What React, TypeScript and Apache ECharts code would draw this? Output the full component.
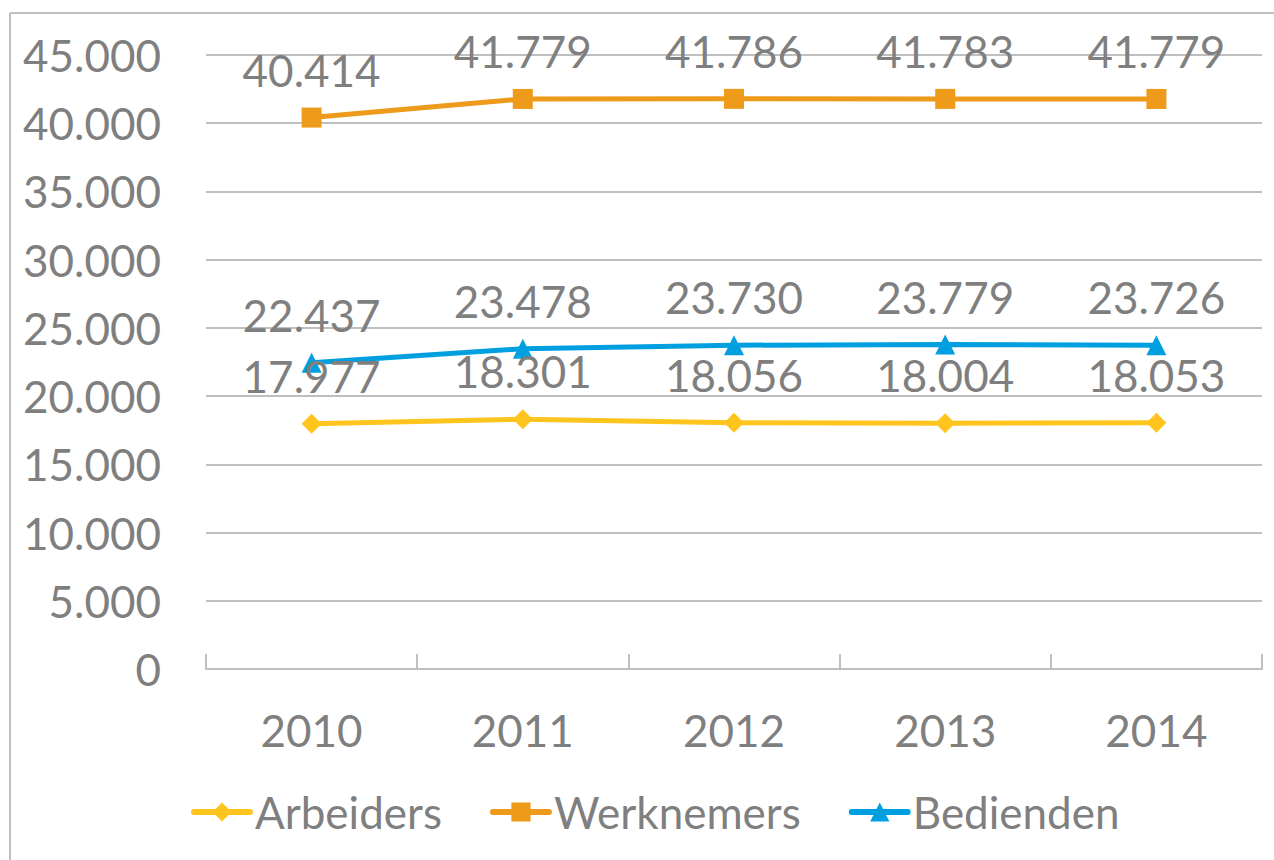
import React, { useEffect, useRef } from "react";
import * as echarts from "echarts";

const years = ["2010", "2011", "2012", "2013", "2014"];
const arbeiders = [17977, 18301, 18056, 18004, 18053];
const werknemers = [40414, 41779, 41786, 41783, 41779];
const bedienden = [22437, 23478, 23730, 23779, 23726];

const FONT = "Lato";
const GREY = "#7f7f7f";
const LINE = "#bfbfbf";

const fmt = (v: number) => {
  const s = String(Math.round(v));
  return s.replace(/\B(?=(\d{3})+(?!\d))/g, ".");
};

export default function App() {
  const ref = useRef<HTMLDivElement>(null);
  useEffect(() => {
    if (!ref.current) return;
    const chart = echarts.init(ref.current, undefined, { renderer: "svg" });
    const label = {
      show: true,
      position: "top",
      distance: 16,
      fontFamily: FONT,
      fontSize: 44,
      color: GREY,
      formatter: (p: any) => fmt(p.value),
    };
    const mk = (name: string, data: number[], color: string, symbol: string, size: number) => ({
      name,
      type: "line",
      data,
      symbol,
      symbolSize: size,
      showAllSymbol: true,
      lineStyle: { color, width: 5 },
      itemStyle: { color },
      label,
    });
    chart.setOption({
      animation: false,
      backgroundColor: "#ffffff",
      graphic: [
        { type: "line", shape: { x1: 10, y1: 13, x2: 1274, y2: 13 }, style: { stroke: LINE, lineWidth: 2 } },
        { type: "line", shape: { x1: 10, y1: 13, x2: 10, y2: 860 }, style: { stroke: LINE, lineWidth: 2 } },
      ],
      grid: { left: 206, right: 12, top: 55, bottom: 191, containLabel: false },
      xAxis: {
        type: "category",
        data: years,
        boundaryGap: true,
        axisLine: { show: true, lineStyle: { color: LINE, width: 2 } },
        axisTick: { show: true, interval: 0, inside: true, length: 15, lineStyle: { color: LINE, width: 2 } },
        axisLabel: { fontFamily: FONT, fontSize: 44, color: GREY, margin: 39 },
        z: 10,
      },
      yAxis: {
        type: "value",
        min: 0,
        max: 45000,
        interval: 5000,
        axisLine: { show: false },
        axisTick: { show: false },
        splitLine: { lineStyle: { color: LINE, width: 2 } },
        axisLabel: { fontFamily: FONT, fontSize: 44, color: GREY, margin: 45, formatter: fmt },
      },
      legend: {
        left: 186,
        top: 785,
        itemWidth: 56,
        itemHeight: 24,
        itemGap: 48,
        lineStyle: { width: 6, cap: "round" },
        textStyle: { fontFamily: FONT, fontSize: 44, color: GREY },
        data: ["Arbeiders", "Werknemers", "Bedienden"],
      },
      series: [
        mk("Arbeiders", arbeiders, "#FFC51E", "diamond", 20),
        mk("Werknemers", werknemers, "#EE9A1A", "rect", 20),
        mk("Bedienden", bedienden, "#00A0E0", "triangle", 20),
      ],
    });
    return () => chart.dispose();
  }, []);
  return (
    <div
      ref={ref}
      style={{ position: "fixed", left: 0, top: 0, width: 1274, height: 860 }}
    />
  );
}
